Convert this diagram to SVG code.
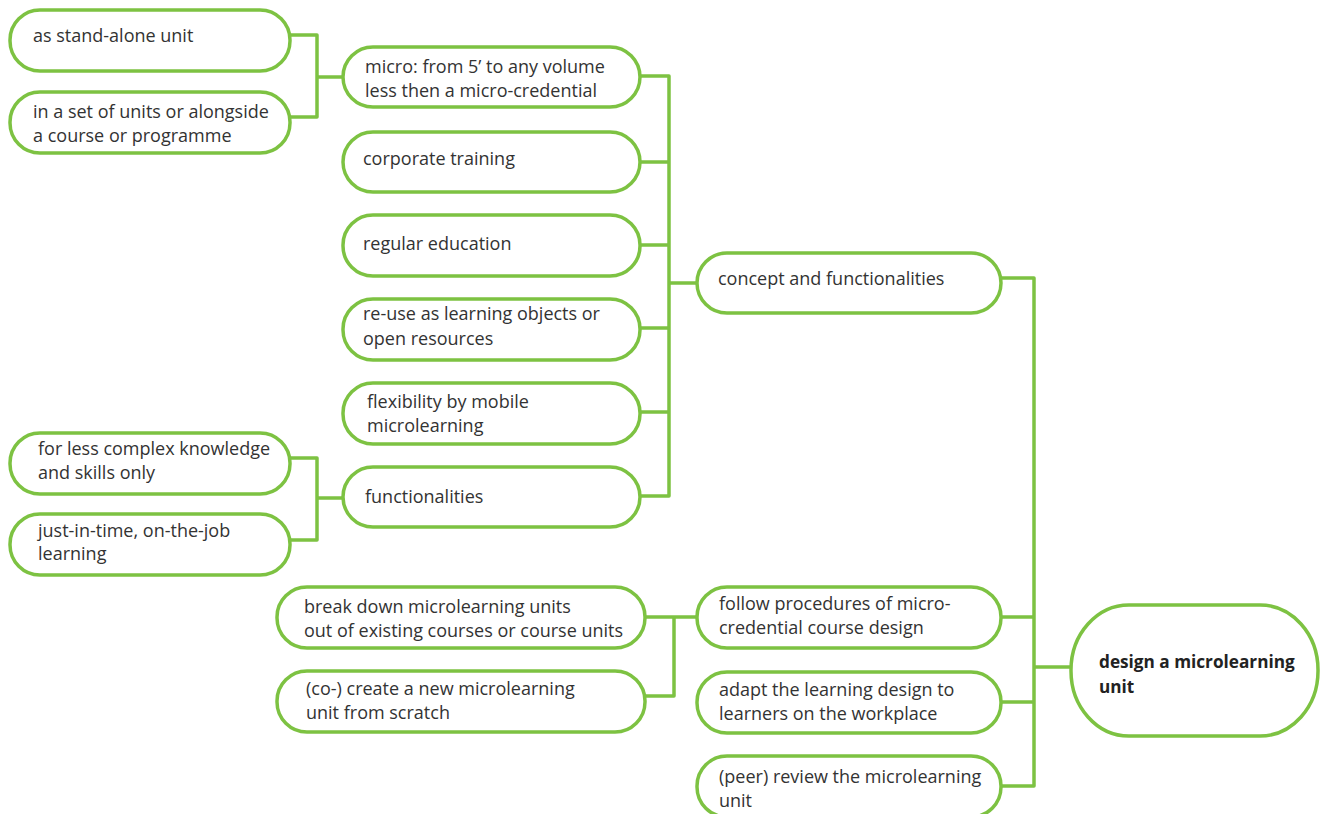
<svg xmlns="http://www.w3.org/2000/svg" width="1320" height="814" viewBox="0 0 1320 814">
<style>
.n{fill:#fff;stroke:#7dc242;stroke-width:3.5}
.c{fill:none;stroke:#7dc242;stroke-width:3.5;stroke-linejoin:round;stroke-linecap:round}
text{font-family:"Open Sans","Noto Sans",sans-serif;font-size:18px;fill:#333}
.b{font-weight:bold;font-size:17.2px;fill:#222}
</style>
<rect width="1320" height="814" fill="#fff"/>
<g id="connectors">
<path class="c" d="M290,35 H317 V117 H290 M317,77 H343"/>
<path class="c" d="M290,458 H317 V540 H290 M317,498 H343"/>
<path class="c" d="M640,76 H669 V496 H640 M640,162 H669 M640,245 H669 M640,328 H669 M640,412 H669 M669,283 H697"/>
<path class="c" d="M645,617 H697 M674,617 V696 H645"/>
<path class="c" d="M1000,278 H1034 V786 H1000 M1000,617 H1034 M1000,702 H1034 M1034,667 H1071"/>
</g>
<g id="n_standalone"><rect class="n" x="10" y="10" width="280" height="61" rx="30"/><text x="33" y="42">as stand-alone unit</text></g>
<g id="n_set"><rect class="n" x="10" y="92" width="280" height="61" rx="30"/><text x="33" y="118">in a set of units or alongside</text><text x="33" y="142">a course or programme</text></g>
<g id="n_micro"><rect class="n" x="343" y="47" width="297" height="60" rx="30"/><text x="365" y="73">micro: from 5’ to any volume</text><text x="365" y="97">less then a micro-credential</text></g>
<g id="n_corporate"><rect class="n" x="343" y="132" width="297" height="60" rx="30"/><text x="363" y="165">corporate training</text></g>
<g id="n_regular"><rect class="n" x="343" y="215" width="297" height="61" rx="30"/><text x="363" y="250">regular education</text></g>
<g id="n_reuse"><rect class="n" x="343" y="299" width="297" height="61" rx="30"/><text x="363" y="320">re-use as learning objects or</text><text x="363" y="345">open resources</text></g>
<g id="n_flex"><rect class="n" x="343" y="383" width="297" height="61" rx="30"/><text x="367" y="408">flexibility by mobile</text><text x="367" y="432">microlearning</text></g>
<g id="n_functionalities"><rect class="n" x="343" y="467" width="297" height="60" rx="30"/><text x="365" y="503">functionalities</text></g>
<g id="n_lesscomplex"><rect class="n" x="10" y="433" width="280" height="61" rx="30"/><text x="38" y="455">for less complex knowledge</text><text x="38" y="479">and skills only</text></g>
<g id="n_jit"><rect class="n" x="10" y="514" width="280" height="61" rx="30"/><text x="38" y="537">just-in-time, on-the-job</text><text x="38" y="560">learning</text></g>
<g id="n_concept"><rect class="n" x="697" y="253" width="304" height="60" rx="30"/><text x="718" y="285">concept and functionalities</text></g>
<g id="n_breakdown"><rect class="n" x="277" y="587" width="368" height="61" rx="30"/><text x="304" y="613">break down microlearning units</text><text x="304" y="637">out of existing courses or course units</text></g>
<g id="n_cocreate"><rect class="n" x="277" y="671" width="368" height="61" rx="30"/><text x="306" y="695">(co-) create a new microlearning</text><text x="306" y="719">unit from scratch</text></g>
<g id="n_follow"><rect class="n" x="697" y="587" width="304" height="61" rx="30"/><text x="719" y="610">follow procedures of micro-</text><text x="719" y="634">credential course design</text></g>
<g id="n_adapt"><rect class="n" x="697" y="672" width="304" height="61" rx="30"/><text x="719" y="696">adapt the learning design to</text><text x="719" y="720">learners on the workplace</text></g>
<g id="n_peer"><rect class="n" x="697" y="756" width="304" height="61" rx="30"/><text x="719" y="783">(peer) review the microlearning</text><text x="719" y="807">unit</text></g>
<g id="n_root"><rect class="n" x="1071" y="605" width="247" height="131" rx="58" ry="65"/><text class="b" x="1099" y="668">design a microlearning</text><text class="b" x="1099" y="693">unit</text></g>
</svg>
